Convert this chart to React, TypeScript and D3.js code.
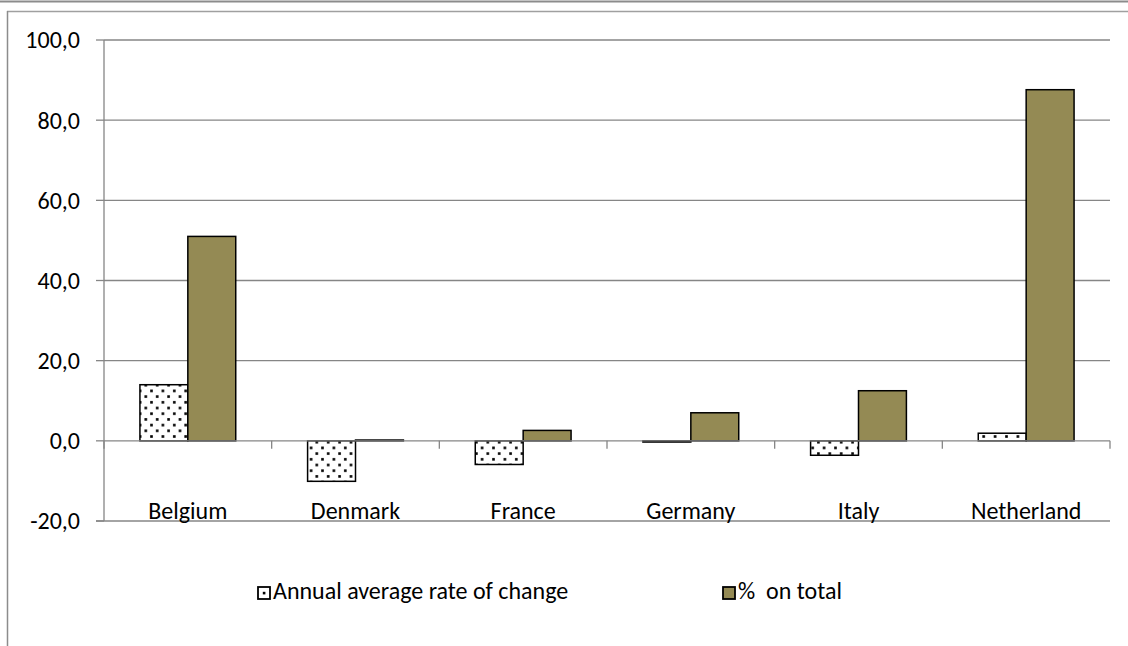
import React from "react";
import * as d3 from "d3";

const categories = ["Belgium", "Denmark", "France", "Germany", "Italy", "Netherland"];
const annualChange = [14.0, -10.1, -5.9, -0.3, -3.6, 1.9];
const shareOnTotal = [51.0, 0.2, 2.6, 7.0, 12.5, 87.6];
const seriesNames = ["Annual average rate of change", "%  on total"];
const yTicks = [-20, 0, 20, 40, 60, 80, 100];

const W = 1128;
const H = 646;
const margin = { left: 104, right: 1110, top: 40, bottom: 521 };
const OLIVE = "#948A54";
const GRID = "#868686";
const FONT = "Carlito, Calibri, Lato, 'Open Sans', sans-serif";
const FS = 24;

const fmt = (v: number) => v.toFixed(1).replace(".", ",");

export default function App() {
  const y = d3.scaleLinear().domain([-20, 100]).range([margin.bottom, margin.top]);
  const x0 = d3.scaleBand<string>().domain(categories).range([margin.left, margin.right]).paddingInner(0).paddingOuter(0);
  const step = x0.bandwidth();
  const barW = step / 3.5;
  const groupOffset = (step - 2 * barW) / 2;
  const x1 = d3.scaleBand<number>().domain([0, 1]).range([0, 2 * barW]);

  const series = [annualChange, shareOnTotal];
  const y0 = y(0);

  return (
    <svg width={W} height={H} style={{ position: "absolute", left: 0, top: 0, background: "#fff" }}>
      <defs>
        <pattern id="dots" patternUnits="userSpaceOnUse" width={11.4} height={11.4}>
          <rect width={11.4} height={11.4} fill="#fff" />
          <rect x={2} y={2} width={2.6} height={2.6} fill="#000" />
          <rect x={7.7} y={7.7} width={2.6} height={2.6} fill="#000" />
        </pattern>
      </defs>

      {/* outer frame */}
      <line x1={0} x2={W} y1={1.5} y2={1.5} stroke="#8c8c8c" strokeWidth={2} />
      <line x1={7} x2={W} y1={11.5} y2={11.5} stroke="#a0a0a0" strokeWidth={1.5} />
      <line x1={7.5} x2={7.5} y1={11} y2={H} stroke="#8c8c8c" strokeWidth={1.5} />

      {/* gridlines and y labels */}
      {yTicks.map((t) => (
        <g key={t}>
          {t !== -20 && t !== 0 && (
            <line x1={margin.left} x2={margin.right} y1={y(t)} y2={y(t)} stroke={GRID} strokeWidth={1.3} />
          )}
          <line x1={margin.left - 8} x2={margin.left} y1={y(t)} y2={y(t)} stroke={GRID} strokeWidth={1.3} />
          <text x={80} y={y(t)} dy="0.35em" textAnchor="end" fontFamily={FONT} fontSize={FS} fill="#000">
            {fmt(t)}
          </text>
        </g>
      ))}
      <line x1={margin.left} x2={margin.left} y1={margin.top} y2={margin.bottom} stroke={GRID} strokeWidth={1.3} />
      <line x1={margin.left - 8} x2={margin.right} y1={margin.bottom} y2={margin.bottom} stroke={GRID} strokeWidth={1.3} />

      {/* bars */}
      {categories.map((c, i) => (
        <g key={c}>
          {series.map((s, k) => {
            const v = s[i];
            const bx = (x0(c) as number) + groupOffset + (x1(k) as number);
            const top = Math.min(y(v), y0);
            const h = Math.abs(y(v) - y0);
            return (
              <rect
                key={k}
                x={bx}
                y={top}
                width={x1.bandwidth()}
                height={h}
                fill={k === 0 ? "url(#dots)" : OLIVE}
                stroke="#000"
                strokeWidth={1.5}
              />
            );
          })}
        </g>
      ))}

      {/* category axis at zero */}
      <line x1={margin.left} x2={margin.right} y1={y0} y2={y0} stroke={GRID} strokeWidth={1.3} />
      {d3.range(categories.length + 1).map((i) => {
        const tx = margin.left + i * step;
        return <line key={i} x1={tx} x2={tx} y1={y0} y2={y0 + 8} stroke={GRID} strokeWidth={1.3} />;
      })}
      {categories.map((c) => (
        <text
          key={c}
          x={(x0(c) as number) + step / 2}
          y={519}
          textAnchor="middle"
          fontFamily={FONT}
          fontSize={FS}
          fill="#000"
        >
          {c}
        </text>
      ))}

      {/* legend */}
      <rect x={258} y={587} width={12} height={12} fill="#fff" stroke="#000" strokeWidth={1.8} />
      <rect x={262.8} y={591.8} width={2.6} height={2.6} fill="#000" />
      <text x={273} y={599} fontFamily={FONT} fontSize={FS} fill="#000">
        {seriesNames[0]}
      </text>
      <rect x={723} y={587} width={12} height={12} fill={OLIVE} stroke="#000" strokeWidth={1.8} />
      <text x={738} y={599} fontFamily={FONT} fontSize={FS} fill="#000" style={{ whiteSpace: "pre" }}>
        {seriesNames[1]}
      </text>
    </svg>
  );
}
